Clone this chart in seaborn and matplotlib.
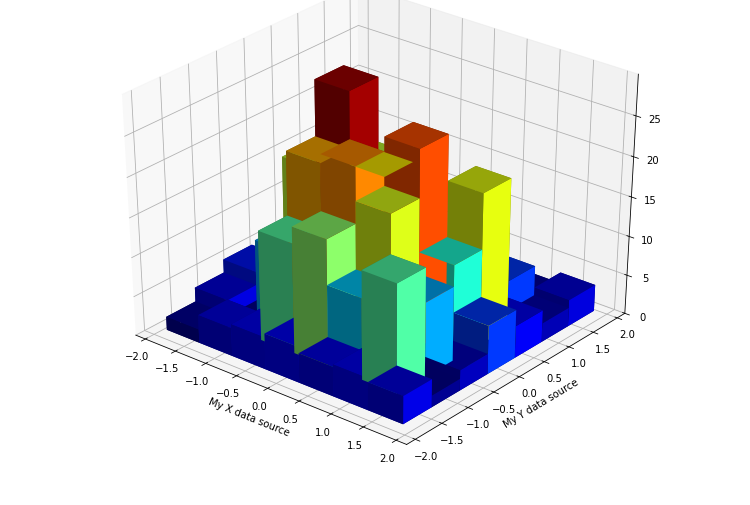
import numpy as np
import matplotlib
matplotlib.use('Agg')
import matplotlib.pyplot as plt
from matplotlib.colors import ListedColormap
from mpl_toolkits.mplot3d import Axes3D
import seaborn as sns

x_left = [-1.96, -1.42, -0.88, -0.34, 0.20, 0.74, 1.28]
y_front = [-1.81, -1.27, -0.73, -0.19, 0.35, 0.89, 1.43]
bar_w = 0.54

# one row per x bin, values along y
height_x0 = [1.7, 3.5, 5.2, 2.0, 2.0, 1.5, 1.5]
height_x1 = [3.6, 1.5, 9.3, 18.0, 2.0, 2.0, 1.5]
height_x2 = [4.1, 14.0, 22.0, 28.9, 18.0, 2.0, 1.5]
height_x3 = [4.6, 16.1, 23.1, 20.0, 3.0, 2.0, 1.0]
height_x4 = [3.8, 10.4, 18.9, 24.9, 4.0, 3.0, 2.0]
height_x5 = [4.1, 13.9, 9.5, 12.2, 19.2, 6.2, 2.0]
height_x6 = [3.6, 1.5, 2.6, 6.2, 4.1, 2.4, 3.4]

hist = np.array([height_x0, height_x1, height_x2, height_x3, height_x4, height_x5, height_x6])

xx, yy = np.meshgrid(x_left, y_front, indexing='ij')
xpos = xx.ravel()
ypos = yy.ravel()
dz = hist.ravel()

# seaborn refuses the name in color_palette, mpl_palette still gives it
cmap = ListedColormap(sns.mpl_palette('jet', 256))
rgba = cmap((dz - dz.min()) / dz.max())

# face brightness: -z, +z, -y, +y, -x, +x
face_shade = np.array([0.5, 0.65, 0.5, 0.5, 0.5, 1.0])
face_colors = np.repeat(rgba, 6, axis=0)
face_colors[:, :3] *= np.tile(face_shade, len(dz))[:, None]

fig = plt.figure(figsize=(750/72, 505/72), dpi=72)
ax = fig.add_axes([0.057, 0.0515, 0.88, 1.047], projection='3d')
ax.apply_aspect = lambda position=None: None
ax.set_box_aspect((1, 1, 1), zoom=1/1.1)
ax.view_init(elev=33, azim=-50.5)

ax.bar3d(xpos, ypos, np.zeros_like(dz), bar_w, bar_w, dz, color=face_colors, shade=False)

ax.set_xlim(-2.16, 2.16)
ax.set_ylim(-2.16, 2.16)
ax.set_zlim(0, 30)
ax.set_xticks(np.arange(-2, 2.01, 0.5))
ax.set_yticks(np.arange(-2, 2.01, 0.5))
ax.set_zticks([0, 5, 10, 15, 20, 25])
ax.set_xlabel('My X data source')
ax.set_ylabel('My Y data source')
fig.savefig('out.png', dpi=72)
